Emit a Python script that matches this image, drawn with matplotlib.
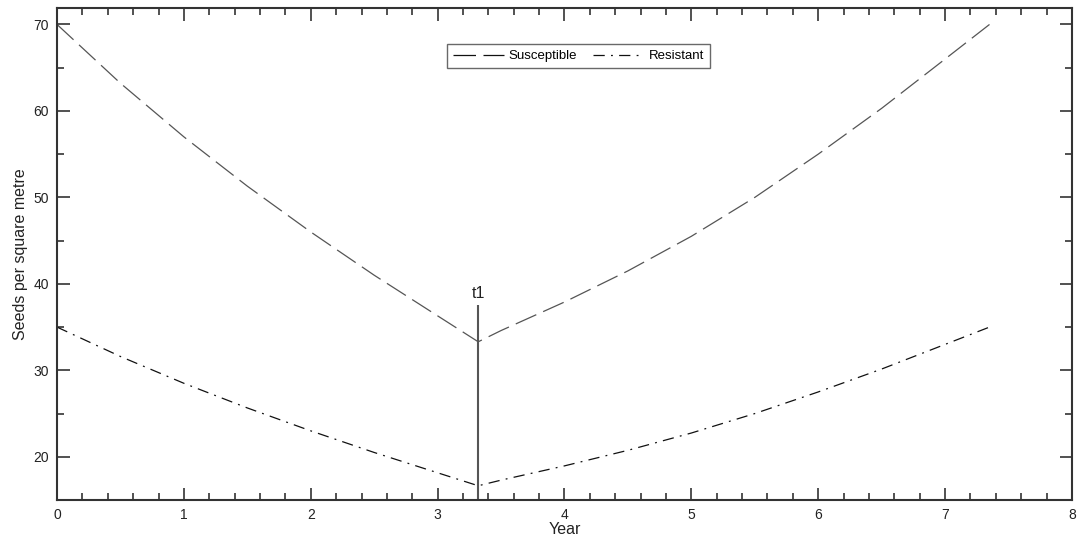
import matplotlib
matplotlib.use("Agg")
import matplotlib.pyplot as plt
from matplotlib.ticker import MultipleLocator

# values
years = [0.0, 0.5, 1.0, 1.5, 2.0, 2.5, 3.0, 3.32,
         3.5, 4.0, 4.5, 5.0, 5.5, 6.0, 6.5, 7.0, 7.35]
susceptible = [70.0, 63.2, 57.0, 51.3, 46.0, 41.0, 36.3, 33.3,
               34.6, 37.9, 41.5, 45.5, 50.0, 55.0, 60.3, 66.0, 70.0]
resistant = [35.0, 31.6, 28.5, 25.65, 23.0, 20.5, 18.15, 16.65,
             17.3, 18.95, 20.75, 22.75, 25.0, 27.5, 30.15, 33.0, 35.0]
t1_year = 3.32
t1_top = 37.5

plt.rcParams["font.family"] = ["Liberation Sans", "DejaVu Sans"]
text_col = "#222222"

fig = plt.figure(figsize=(10.78, 5.46), dpi=100)
ax = fig.add_axes([0.0529, 0.0842, 0.9415, 0.9011])

ax.plot(years, susceptible, color="#555555", lw=0.9,
        dashes=(18, 6), label="Susceptible")
ax.plot(years, resistant, color="#111111", lw=0.9,
        dashes=(9, 5, 1.5, 5), label="Resistant")

ax.vlines(t1_year, 15, t1_top, color="#555555", lw=1.5)
ax.text(t1_year, t1_top + 0.5, "t1", ha="center", va="bottom",
        fontsize=11.5, color=text_col)

ax.set_xlim(0, 8)
ax.set_ylim(15, 71.9)
ax.xaxis.set_major_locator(MultipleLocator(1))
ax.xaxis.set_minor_locator(MultipleLocator(0.2))
ax.yaxis.set_major_locator(MultipleLocator(10))
ax.yaxis.set_minor_locator(MultipleLocator(5))
ax.set_yticks(range(20, 71, 10))

ax.tick_params(which="both", direction="in", top=True, right=True,
               color="#333333", width=1.2, labelsize=10, labelcolor=text_col)
ax.tick_params(which="major", length=9, pad=6)
ax.tick_params(which="minor", length=5)

for sp in ax.spines.values():
    sp.set_color("#333333")
    sp.set_linewidth(1.5)

ax.set_xlabel("Year", fontsize=11.5, color=text_col, labelpad=0)
ax.set_ylabel("Seeds per square metre", fontsize=11.5, color=text_col, labelpad=4)

leg = ax.legend(loc="center", bbox_to_anchor=(0.514, 0.902), ncol=2,
                fontsize=9.5, frameon=True, fancybox=False, handlelength=3.8,
                handletextpad=0.4, columnspacing=1.2, borderpad=0.45)
leg.get_frame().set_edgecolor("#444444")
leg.get_frame().set_linewidth(1.0)
for line in leg.get_lines():
    line.set_color("#111111")

fig.savefig("out.png", dpi=100)
